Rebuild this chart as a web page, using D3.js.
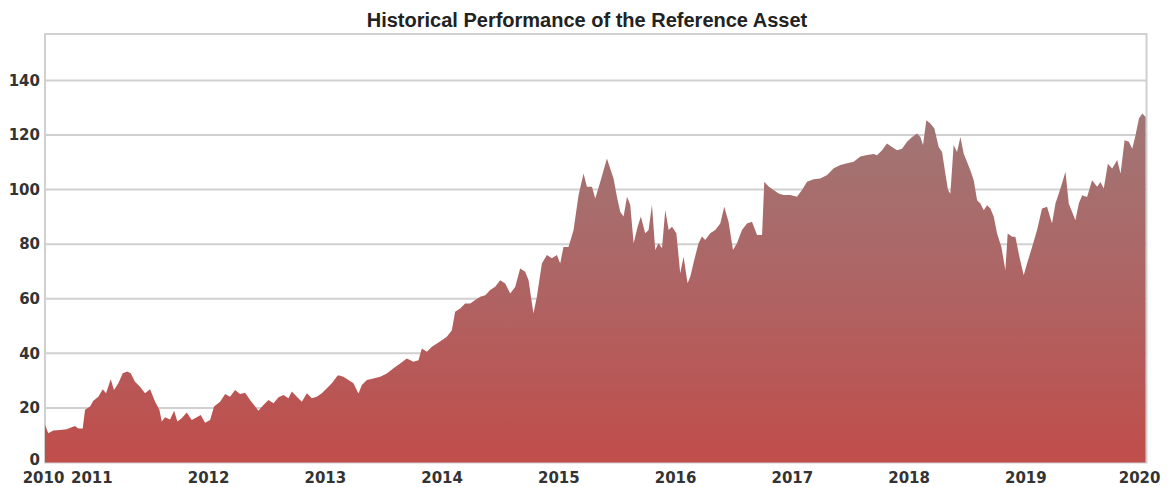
<!DOCTYPE html>
<html>
<head>
<meta charset="utf-8">
<script src="https://cdn.jsdelivr.net/npm/d3@7"></script>
<style>
  body { margin: 0; padding: 0; background: #fff; }
</style>
</head>
<body>
<script>
// values, time in decimal years
const years = [
  2010.603, 2010.631, 2010.674, 2010.732, 2010.789, 2010.832, 2010.860, 2010.888, 2010.926, 2010.946, 2010.989,
  2011.017, 2011.060, 2011.098, 2011.126, 2011.166, 2011.194, 2011.231, 2011.269, 2011.308, 2011.337, 2011.374,
  2011.417, 2011.460, 2011.503, 2011.546, 2011.583, 2011.603, 2011.631, 2011.674, 2011.709, 2011.737, 2011.774,
  2011.817, 2011.860, 2011.903, 2011.937, 2011.974,
  2012.017, 2012.051, 2012.103, 2012.146, 2012.188, 2012.231, 2012.274, 2012.317, 2012.360, 2012.403, 2012.431,
  2012.474, 2012.517, 2012.560, 2012.603, 2012.646, 2012.688, 2012.717, 2012.760, 2012.803, 2012.846, 2012.889,
  2012.931, 2012.974,
  2013.017, 2013.060, 2013.103, 2013.116, 2013.159, 2013.202, 2013.245, 2013.288, 2013.317, 2013.360, 2013.416,
  2013.474, 2013.531, 2013.588, 2013.645, 2013.702, 2013.759, 2013.802, 2013.831, 2013.874, 2013.917, 2013.960,
  2014.002, 2014.045, 2014.088, 2014.116, 2014.159, 2014.202, 2014.245, 2014.288, 2014.331, 2014.374, 2014.416,
  2014.459, 2014.502, 2014.545, 2014.588, 2014.631, 2014.673, 2014.716, 2014.745, 2014.774, 2014.787, 2014.816,
  2014.859, 2014.902, 2014.945, 2014.988,
  2015.016, 2015.044, 2015.087, 2015.130, 2015.173, 2015.216, 2015.245, 2015.288, 2015.316, 2015.359, 2015.416,
  2015.473, 2015.502, 2015.530, 2015.559, 2015.588, 2015.616, 2015.645, 2015.679, 2015.707, 2015.744, 2015.773,
  2015.802, 2015.830, 2015.858, 2015.888, 2015.916, 2015.945, 2015.974,
  2016.011, 2016.044, 2016.073, 2016.107, 2016.130, 2016.164, 2016.201, 2016.230, 2016.258, 2016.301, 2016.344,
  2016.387, 2016.421, 2016.458, 2016.496, 2016.530, 2016.573, 2016.616, 2016.659, 2016.702, 2016.745, 2016.764,
  2016.801, 2016.844, 2016.887, 2016.930, 2016.987,
  2017.044, 2017.087, 2017.130, 2017.187, 2017.244, 2017.302, 2017.359, 2017.416, 2017.473, 2017.530, 2017.587,
  2017.645, 2017.702, 2017.730, 2017.773, 2017.815, 2017.858, 2017.901, 2017.944, 2017.987,
  2018.030, 2018.073, 2018.101, 2018.124, 2018.152, 2018.187, 2018.221, 2018.258, 2018.287, 2018.315, 2018.338,
  2018.358, 2018.386, 2018.415, 2018.444, 2018.472, 2018.501, 2018.529, 2018.558, 2018.587, 2018.615, 2018.644,
  2018.673, 2018.701, 2018.730, 2018.758, 2018.795, 2018.829, 2018.849, 2018.887, 2018.915, 2018.949, 2018.986,
  2019.015, 2019.058, 2019.100, 2019.143, 2019.186, 2019.229, 2019.258, 2019.301, 2019.344, 2019.372, 2019.401,
  2019.429, 2019.458, 2019.487, 2019.529, 2019.572, 2019.615, 2019.644, 2019.672, 2019.707, 2019.744, 2019.787,
  2019.816, 2019.850, 2019.887, 2019.916, 2019.944, 2019.973, 2020.002, 2020.030
]

const values = [
  13.8, 10.7, 11.7, 11.9, 12.2, 12.9, 13.4, 12.5, 12.5, 19.3, 20.5,
  22.6, 24.1, 26.8, 25.4, 30.5, 26.6, 29.0, 32.7, 33.3, 32.7, 29.6,
  27.8, 25.4, 26.8, 22.3, 19.3, 15.0, 16.6, 15.8, 19.0, 15.0, 16.2,
  18.3, 15.6, 16.6, 17.4, 14.6,
  15.6, 20.5, 22.3, 25.1, 24.1, 26.6, 25.1, 25.6, 22.9, 20.5, 19.0,
  21.1, 22.9, 21.7, 23.9, 24.7, 23.5, 26.0, 24.1, 22.3, 25.4, 23.5,
  24.1, 25.4,
  27.2, 29.0, 31.5, 32.0, 31.4, 30.2, 29.0, 25.3, 28.4, 30.2, 30.8,
  31.4, 32.6, 34.5, 36.3, 38.1, 36.9, 37.5, 41.8, 40.6, 42.4, 43.6,
  44.8, 46.1, 48.5, 55.2, 56.4, 58.3, 58.3, 59.5, 60.7, 61.3, 63.2,
  64.4, 66.8, 65.6, 61.9, 64.4, 71.1, 69.9, 66.8, 58.3, 54.6, 60.7,
  72.9, 76.0, 74.8, 76.0,
  72.9, 79.0, 79.0, 85.1, 97.9, 105.9, 101.0, 101.0, 96.7, 102.8, 111.4,
  104.1, 97.4, 91.9, 90.1, 97.4, 94.4, 80.3, 86.4, 90.1, 84.0, 85.2,
  94.4, 77.9, 80.3, 78.5, 92.5, 85.2, 86.4,
  84.0, 69.3, 75.4, 65.7, 68.1, 74.2, 80.3, 82.8, 81.5, 84.0, 85.2,
  87.6, 93.7, 88.2, 77.9, 80.3, 85.2, 87.6, 88.2, 83.4, 83.4, 102.9,
  101.1, 99.8, 98.6, 98.0, 98.0,
  97.4, 99.8, 102.9, 103.8, 104.1, 105.3, 107.8, 109.0, 109.6, 110.2, 112.1,
  112.7, 113.0, 112.6, 114.4, 116.9, 115.6, 114.4, 115.0, 117.5,
  119.3, 120.5, 119.3, 116.3, 125.4, 124.2, 122.4, 115.6, 113.8, 105.9, 99.8,
  98.5, 116.3, 113.8, 119.3, 113.2, 110.1, 107.1, 103.4, 96.1, 94.9, 92.4,
  94.3, 93.1, 90.0, 83.9, 79.0, 70.5, 83.9, 82.7, 82.7, 75.4, 68.6,
  72.9, 79.0, 85.1, 93.1, 93.7, 87.6, 94.9, 100.4, 106.5, 94.9, 91.8,
  88.8, 94.9, 97.9, 97.3, 103.4, 101.0, 102.8, 100.4, 109.5, 107.7, 110.8,
  105.9, 118.1, 117.5, 115.0, 119.9, 126.0, 127.9, 126.6
]

const yTicks = [0, 20, 40, 60, 80, 100, 120, 140]
const xTicks = [2010.603, 2011, 2012, 2013, 2014, 2015, 2016, 2017, 2018, 2019, 2020]
const xTickLabels = ["2010", "2011", "2012", "2013", "2014", "2015", "2016", "2017", "2018", "2019", "2020"]

const title = "Historical Performance of the Reference Asset"

const data = years.map((t, i) => ({t, v: values[i]}))

const width = 1169
const height = 487
const margin = {top: 34, right: 22.5, bottom: 24.5, left: 45}

const x = d3.scaleLinear()
  .domain([2010.603, 2020.038])
  .range([margin.left, width - margin.right])

const y = d3.scaleLinear()
  .domain([0, 157])
  .range([height - margin.bottom, margin.top])

const svg = d3.select('body').append('svg')
  .attr("width", width)
  .attr("height", height)

const defs = svg.append("defs")
const grad = defs.append("linearGradient")
  .attr("id", "fillGrad")
  .attr("gradientUnits", "userSpaceOnUse")
  .attr("x1", 0).attr("x2", 0)
  .attr("y1", y(130)).attr("y2", y(0))
grad.append("stop").attr("offset", "0%").attr("stop-color", "#9f7776")
grad.append("stop").attr("offset", "55%").attr("stop-color", "#b06262")
grad.append("stop").attr("offset", "100%").attr("stop-color", "#c04d4a")

// plot frame
svg.append("rect")
  .attr("x", margin.left)
  .attr("y", margin.top)
  .attr("width", width - margin.left - margin.right)
  .attr("height", height - margin.top - margin.bottom)
  .attr("fill", "none")
  .attr("stroke", "#d0d0d0")
  .attr("stroke-width", 2)

// horizontal grid
svg.append("g")
  .selectAll("line")
  .data(yTicks.filter(d => d > 0))
  .join("line")
  .attr("x1", margin.left)
  .attr("x2", width - margin.right)
  .attr("y1", d => y(d))
  .attr("y2", d => y(d))
  .attr("stroke", "#d0d0d0")
  .attr("stroke-width", 2)

const area = d3.area()
  .x(d => x(d.t))
  .y0(y(0))
  .y1(d => y(d.v))

svg.append("path")
  .datum(data)
  .attr("d", area)
  .attr("fill", "url(#fillGrad)")

const yAxis = svg.append("g")
  .attr("transform", `translate(${margin.left},0)`)
  .call(d3.axisLeft(y).tickValues(yTicks).tickSize(0).tickPadding(5))

const xAxis = svg.append("g")
  .attr("transform", `translate(0,${y(0)})`)
  .call(d3.axisBottom(x).tickValues(xTicks).tickSize(0).tickPadding(9.5)
    .tickFormat((d, i) => xTickLabels[i]))

svg.selectAll(".domain").remove()

svg.selectAll(".tick text")
  .attr("font-family", "DejaVu Sans")
  .attr("font-weight", "bold")
  .attr("font-size", "15px")
  .attr("fill", "#333")

// the zero label sits right above the first year, lift it a touch
yAxis.selectAll(".tick text").filter(d => d === 0).attr("dy", "0.12em")

// first label sits on the left edge, nudge it so it clears 2011
xAxis.selectAll(".tick text").filter((d, i) => i === 0).attr("dx", -2)
xAxis.selectAll(".tick text").filter((d, i) => i === xTicks.length - 1).attr("dx", -3)

svg.append("text")
  .attr("x", 587)
  .attr("y", 26.5)
  .attr("text-anchor", "middle")
  .attr("font-family", "Liberation Sans, Arial, sans-serif")
  .attr("font-weight", "bold")
  .attr("font-size", "20px")
  .attr("fill", "#222")
  .text(title)
</script>
</body>
</html>
